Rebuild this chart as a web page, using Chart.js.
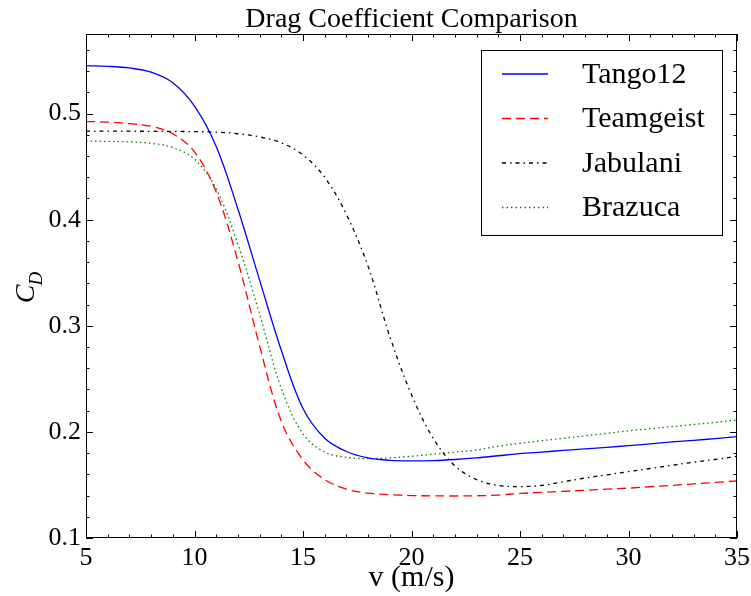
<!DOCTYPE html>
<html>
<head>
<meta charset="utf-8">
<script src="https://cdn.jsdelivr.net/npm/chart.js@4.4.0/dist/chart.umd.min.js"></script>
<style>
  html, body { margin: 0; padding: 0; background: #fff; }
  #wrap { width: 751px; height: 596px; }
</style>
</head>
<body>
<div id="wrap"><canvas id="dragChart" width="751" height="596"></canvas></div>
<script>
    // speeds in m/s
    var speeds = [5, 6, 7, 8, 9, 10, 11, 12, 13, 14, 15, 16, 17, 18, 19, 20,
                  21, 22, 23, 24, 25, 26, 27, 28, 29, 30, 31, 32, 33, 34, 35];

    var tango12 = [0.545, 0.5445, 0.543, 0.539, 0.529, 0.507, 0.469, 0.41, 0.343, 0.277,
                   0.222, 0.194, 0.1815, 0.1755, 0.1732, 0.1727, 0.173, 0.174, 0.1755, 0.1775,
                   0.1795, 0.181, 0.1825, 0.184, 0.1855, 0.187, 0.1887, 0.1905, 0.192, 0.1937, 0.1955];

    var teamgeist = [0.4925, 0.492, 0.4905, 0.488, 0.481, 0.464, 0.426, 0.361, 0.281, 0.21,
                     0.1736, 0.155, 0.146, 0.1422, 0.1408, 0.140, 0.1397, 0.1396, 0.1398, 0.1405,
                     0.142, 0.143, 0.144, 0.145, 0.146, 0.147, 0.1483, 0.1496, 0.151, 0.1524, 0.1538];

    var jabulani = [0.4835, 0.4835, 0.4834, 0.4833, 0.4832, 0.483, 0.4825, 0.481, 0.478, 0.4725,
                    0.461, 0.44, 0.405, 0.356, 0.29, 0.235, 0.194, 0.168, 0.155, 0.1495,
                    0.1485, 0.1495, 0.153, 0.1565, 0.1595, 0.1626, 0.1655, 0.1685, 0.1715, 0.174, 0.177];

    var brazuca = [0.474, 0.4738, 0.4733, 0.472, 0.468, 0.457, 0.429, 0.377, 0.311, 0.241,
                   0.198, 0.181, 0.176, 0.1748, 0.1755, 0.177, 0.179, 0.181, 0.183, 0.1865,
                   0.1893, 0.1917, 0.194, 0.1963, 0.1986, 0.201, 0.203, 0.205, 0.207, 0.209, 0.2113];

    var xMajor = [5, 10, 15, 20, 25, 30, 35];
    var yMajor = [0.1, 0.2, 0.3, 0.4, 0.5];

    var serif = "'Liberation Serif', 'DejaVu Serif', serif";

    function pts(vals) {
        return speeds.map(function(s, i) { return {x: s, y: vals[i]}; });
    }

    // inward ticks on all four sides, frame, title, axis labels and legend box
    var decorPlugin = {
        id: 'decor',
        afterDraw: function(chart) {
            var ctx = chart.ctx,
                a = chart.chartArea,
                xs = chart.scales.x,
                ys = chart.scales.y;

            ctx.save();
            ctx.strokeStyle = '#000';
            ctx.lineWidth = 1;
            ctx.setLineDash([]);
            ctx.strokeRect(a.left + 0.5, a.top + 0.5, a.right - a.left - 1, a.bottom - a.top - 1);

            ctx.beginPath();
            for (var v = 5; v <= 35; v++) {
                var px = Math.round(xs.getPixelForValue(v)) + 0.5;
                var len = (v % 5 === 0) ? 7 : 3.5;
                ctx.moveTo(px, a.bottom); ctx.lineTo(px, a.bottom - len);
                ctx.moveTo(px, a.top); ctx.lineTo(px, a.top + len);
            }
            for (var k = 0; k <= 23; k++) {
                var val = 0.1 + k * 0.02;
                if (val > ys.max) break;
                var py = Math.round(ys.getPixelForValue(val)) + 0.5;
                var ylen = (k % 5 === 0) ? 7 : 3.5;
                ctx.moveTo(a.left, py); ctx.lineTo(a.left + ylen, py);
                ctx.moveTo(a.right, py); ctx.lineTo(a.right - ylen, py);
            }
            ctx.stroke();

            // title
            ctx.fillStyle = '#000';
            ctx.font = '28px ' + serif;
            ctx.textAlign = 'center';
            ctx.textBaseline = 'alphabetic';
            ctx.fillText('Drag Coefficient Comparison', (a.left + a.right) / 2, 27);

            // x label
            ctx.font = '30px ' + serif;
            ctx.fillText('v (m/s)', (a.left + a.right) / 2, 586);

            // y label C_D
            ctx.translate(34, (a.top + a.bottom) / 2 + 1);
            ctx.rotate(-Math.PI / 2);
            ctx.textAlign = 'left';
            ctx.font = 'italic 28px ' + serif;
            var cw = ctx.measureText('C').width;
            ctx.font = 'italic 19px ' + serif;
            var dw = ctx.measureText('D').width;
            var sx = -(cw + dw) / 2;
            ctx.font = 'italic 28px ' + serif;
            ctx.fillText('C', sx, 0);
            ctx.font = 'italic 19px ' + serif;
            ctx.fillText('D', sx + cw - 1, 8);
            ctx.setTransform(1, 0, 0, 1, 0, 0);

            // legend
            var bx = a.right - 256, by = a.top + 16, bw = 241, bh = 185;
            ctx.fillStyle = '#fff';
            ctx.fillRect(bx, by, bw, bh);
            ctx.strokeStyle = '#000';
            ctx.strokeRect(bx + 0.5, by + 0.5, bw, bh);
            ctx.font = '30px ' + serif;
            ctx.textBaseline = 'middle';
            ctx.textAlign = 'left';
            chart.data.datasets.forEach(function(ds, i) {
                var ry = by + 24 + i * 44.5;
                ctx.beginPath();
                ctx.strokeStyle = ds.borderColor;
                ctx.lineWidth = ds.borderWidth;
                ctx.setLineDash(ds.borderDash || []);
                ctx.moveTo(bx + 21, ry);
                ctx.lineTo(bx + 67, ry);
                ctx.stroke();
                ctx.setLineDash([]);
                ctx.fillStyle = '#000';
                ctx.fillText(ds.label, bx + 101, ry + 1);
            });
            ctx.restore();
        }
    };

    var data = {
        datasets: [{
            label: 'Tango12',
            data: pts(tango12),
            borderColor: '#0000ff',
            borderWidth: 1.3,
            borderDash: []
        }, {
            label: 'Teamgeist',
            data: pts(teamgeist),
            borderColor: '#ff0000',
            borderWidth: 1.3,
            borderDash: [9, 5]
        }, {
            label: 'Jabulani',
            data: pts(jabulani),
            borderColor: '#000000',
            borderWidth: 1.3,
            borderDash: [4, 4, 1.5, 4]
        }, {
            label: 'Brazuca',
            data: pts(brazuca),
            borderColor: '#008000',
            borderWidth: 1.3,
            borderDash: [1.5, 3]
        }]
    };

    var options = {
        responsive: false,
        animation: false,
        layout: { padding: { top: 34, right: 14, left: 0, bottom: 0 } },
        elements: {
            point: { radius: 0 },
            line: { tension: 0.35, fill: false }
        },
        plugins: {
            legend: { display: false },
            title: { display: false },
            tooltip: { enabled: false }
        },
        scales: {
            x: {
                type: 'linear',
                min: 5,
                max: 35,
                grid: { display: false, drawTicks: false },
                border: { display: false },
                afterBuildTicks: function(scale) {
                    scale.ticks = xMajor.map(function(v) { return {value: v}; });
                },
                afterFit: function(scale) {
                    scale.height = 58;
                    scale.paddingLeft = 0;
                    scale.paddingRight = 0;
                },
                ticks: {
                    color: '#000',
                    padding: 5,
                    maxRotation: 0,
                    autoSkip: false,
                    font: { family: serif, size: 26 }
                }
            },
            y: {
                type: 'linear',
                min: 0.1,
                max: 0.575,
                grid: { display: false, drawTicks: false },
                border: { display: false },
                afterBuildTicks: function(scale) {
                    scale.ticks = yMajor.map(function(v) { return {value: v}; });
                },
                afterFit: function(scale) {
                    scale.width = 86;
                    scale.paddingTop = 0;
                    scale.paddingBottom = 0;
                },
                ticks: {
                    color: '#000',
                    padding: 5,
                    autoSkip: false,
                    font: { family: serif, size: 26 },
                    callback: function(v) { return v.toFixed(1); }
                }
            }
        }
    };

    var dragChart = new Chart(document.getElementById('dragChart').getContext('2d'), {
        type: 'line',
        data: data,
        options: options,
        plugins: [decorPlugin]
    });
</script>
</body>
</html>
